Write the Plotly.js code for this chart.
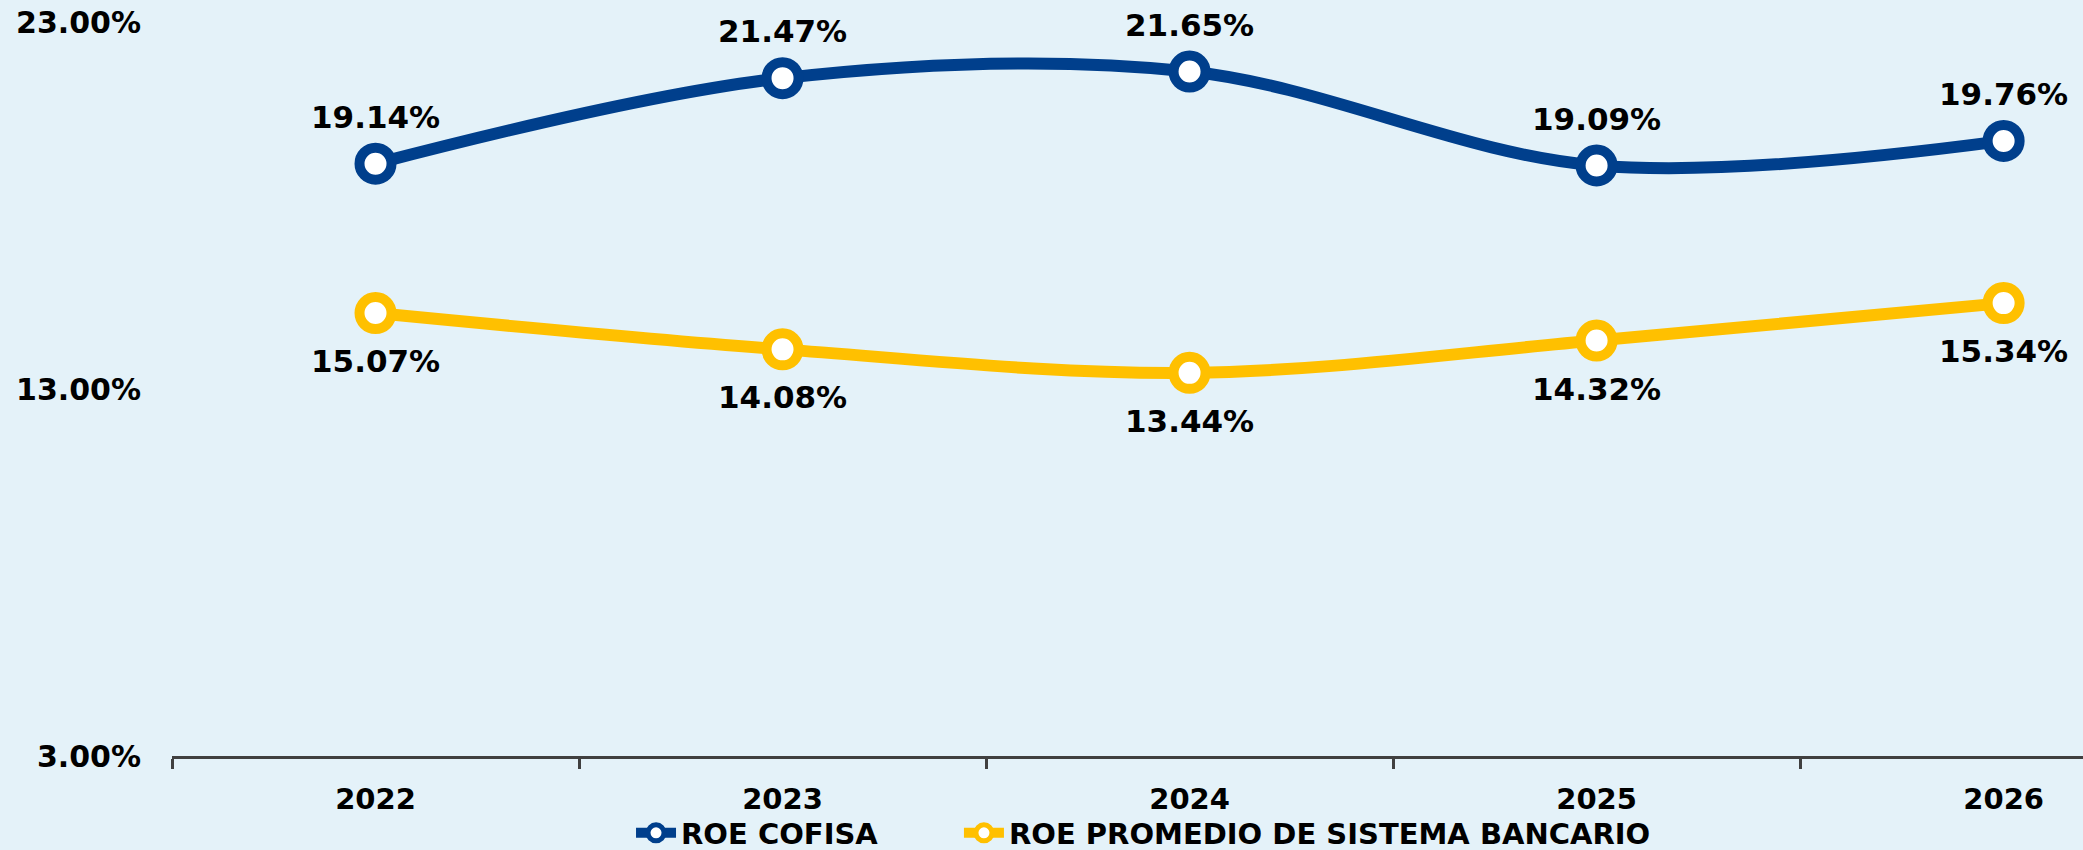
<!DOCTYPE html>
<html>
<head>
<meta charset="utf-8">
<script src="https://cdn.plot.ly/plotly-3.0.1.min.js"></script>
<style>
html,body{margin:0;padding:0;background:#E4F2F9;}
#chart{width:2083px;height:850px;}
</style>
</head>
<body>
<div id="chart"></div>
<script>
const years = ['2022', '2023', '2024', '2025', '2026'];
const roeCofisa = [19.14, 21.47, 21.65, 19.09, 19.76];
const roeSistema = [15.07, 14.08, 13.44, 14.32, 15.34];
const seriesNames = ['ROE COFISA', 'ROE PROMEDIO DE SISTEMA BANCARIO'];
const yTicks = [3, 13, 23];

const PCT = String.fromCharCode(37);
const BLUE = '#003F8C';
const YELLOW = '#FFC000';
const FONT = 'DejaVu Sans, Verdana, sans-serif';

function trace(name, vals, color, legendId) {
  return {
    type: 'scatter', mode: 'lines+markers', name: name, legend: legendId,
    x: years, y: vals,
    line: {color: color, width: 12, shape: 'spline', smoothing: 1},
    marker: {symbol: 'circle', size: 32, color: '#FFFFFF', line: {color: color, width: 10}},
    cliponaxis: false
  };
}

const annotations = [];
years.forEach(function (yr, i) {
  annotations.push({x: i, y: roeCofisa[i], xref: 'x', yref: 'y', text: roeCofisa[i].toFixed(2) + PCT,
    showarrow: false, yshift: 47, font: {family: FONT, size: 31, color: '#000000'}});
  annotations.push({x: i, y: roeSistema[i], xref: 'x', yref: 'y', text: roeSistema[i].toFixed(2) + PCT,
    showarrow: false, yshift: -48, font: {family: FONT, size: 31, color: '#000000'}});
});

function legendBox(xPos) {
  return {orientation: 'h', x: xPos, xanchor: 'left', xref: 'paper', y: 0.02, yref: 'container', yanchor: 'middle',
    font: {family: FONT, size: 29, color: '#000', weight: 'bold'}, bgcolor: 'rgba(0,0,0,0)', itemwidth: 40,
    borderwidth: 0};
}

const layout = {
  width: 2083, height: 850,
  paper_bgcolor: '#E4F2F9', plot_bgcolor: '#E4F2F9',
  margin: {l: 172, r: 0, t: 22, b: 94, pad: 0, autoexpand: false},
  font: {family: FONT, size: 29, color: '#000', weight: 'bold'},
  showlegend: true,
  legend: legendBox(0.2402),
  legend2: legendBox(0.4118),
  xaxis: {type: 'category', range: [-0.5, 4.195], showgrid: false, zeroline: false, automargin: false,
    showline: true, linecolor: '#404040', linewidth: 3,
    ticks: 'outside', ticklen: 10, tickwidth: 3, tickcolor: '#404040', tickson: 'boundaries',
    ticklabelstandoff: 15,
    tickfont: {family: FONT, size: 29, color: '#000', weight: 'bold'}, fixedrange: true},
  yaxis: {range: [3, 23], tickmode: 'array', tickvals: yTicks, automargin: false,
    ticktext: yTicks.map(function (v) { return v.toFixed(2) + PCT; }),
    showgrid: false, zeroline: false, showline: false, ticks: '', ticklabelstandoff: 30,
    tickfont: {family: FONT, size: 30, color: '#000', weight: 'bold'}, fixedrange: true},
  annotations: annotations
};

Plotly.newPlot('chart', [trace(seriesNames[0], roeCofisa, BLUE, 'legend'), trace(seriesNames[1], roeSistema, YELLOW, 'legend2')], layout, {displayModeBar: false, staticPlot: true});
</script>
</body>
</html>
